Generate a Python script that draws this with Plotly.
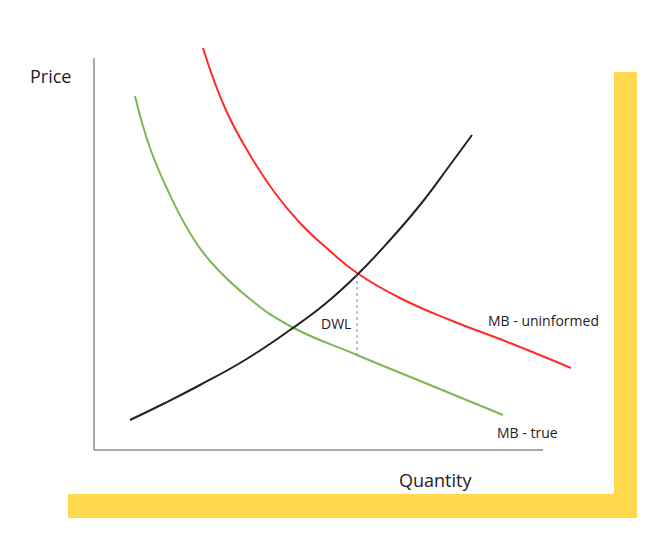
import plotly.graph_objects as go

# curves (pixel space of the original drawing, y downwards)
red_x = [203, 225, 250, 275, 300, 330, 357, 400, 450, 510, 571]
red_y = [48, 108, 155, 193, 223, 251, 273, 298, 320, 343, 368]
green_x = [135, 150, 170, 190, 210, 250, 290, 357, 430, 503]
green_y = [96, 148, 195, 233, 261, 299, 326, 355, 385, 415]
black_x = [130, 165, 200, 245, 290, 325, 357, 390, 420, 450, 472]
black_y = [420, 403, 385, 360, 330, 304, 275, 240, 205, 165, 135]
dwl_x = [357, 357]
dwl_y = [275, 355]

fig = go.Figure()
fig.add_trace(go.Scatter(x=red_x, y=red_y, mode="lines", line=dict(color="#FF2A2A", width=2, shape="spline", smoothing=1.3)))
fig.add_trace(go.Scatter(x=green_x, y=green_y, mode="lines", line=dict(color="#7DB653", width=2, shape="spline", smoothing=1.3)))
fig.add_trace(go.Scatter(x=black_x, y=black_y, mode="lines", line=dict(color="#222222", width=2, shape="spline", smoothing=1.3)))
fig.add_trace(go.Scatter(x=dwl_x, y=dwl_y, mode="lines", line=dict(color="#888888", width=1, dash="dot")))

# yellow frame
fig.add_shape(type="rect", x0=614, x1=637, y0=72, y1=518, fillcolor="#FFD84D", line_width=0, layer="below")
fig.add_shape(type="rect", x0=68, x1=637, y0=494, y1=518, fillcolor="#FFD84D", line_width=0, layer="below")
# axes
fig.add_shape(type="line", x0=94, x1=94, y0=58, y1=450, line=dict(color="#555555", width=1))
fig.add_shape(type="line", x0=94, x1=543, y0=450, y1=450, line=dict(color="#555555", width=1))

font = "Open Sans, Liberation Sans, sans-serif"
labels = [
    ("Price", 50, 76, 18),
    ("Quantity", 435, 480, 18),
    ("DWL", 336, 323, 14),
    ("MB - uninformed", 543, 320, 14),
    ("MB - true", 527, 432, 14),
]
for t, x, y, s in labels:
    fig.add_annotation(x=x, y=y, text=t, showarrow=False, font=dict(family=font, size=s, color="#222222"))

# page offset of ~8px is compensated by shifting the ranges
fig.update_layout(
    width=661, height=546, margin=dict(l=0, r=0, t=0, b=0),
    plot_bgcolor="white", paper_bgcolor="white", showlegend=False,
    xaxis=dict(range=[8, 669], visible=False),
    yaxis=dict(range=[554, 8], visible=False),
)
fig.write_html("out.html")
